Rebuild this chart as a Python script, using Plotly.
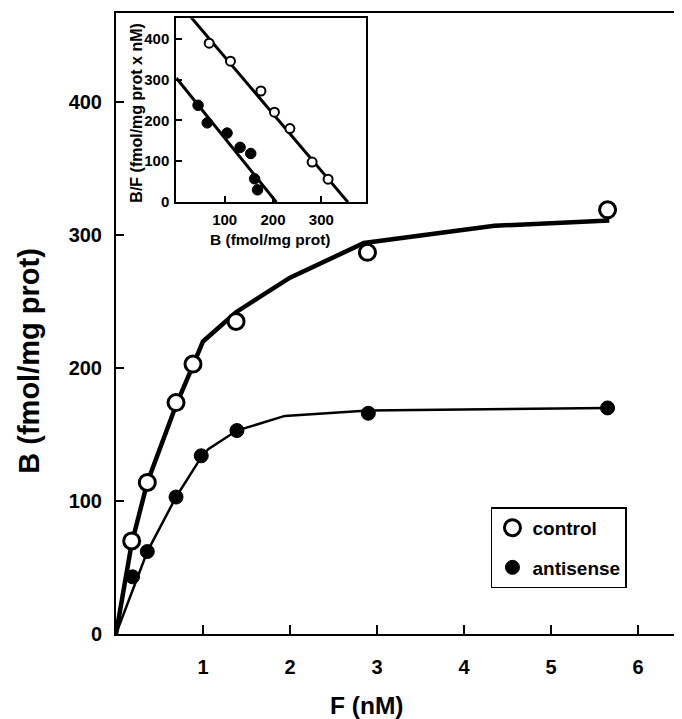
import plotly.graph_objects as go

# ---- main panel data (saturation binding) ----
control_F = [0.18, 0.36, 0.69, 0.885, 1.38, 2.89, 5.65]
control_B = [70, 114, 174, 203, 235, 287, 319]
antisense_F = [0.19, 0.36, 0.69, 0.98, 1.39, 2.90, 5.65]
antisense_B = [43, 62, 103, 134, 153, 166, 170]

# fitted curves
control_fit_F = [0, 0.18, 0.36, 0.69, 0.885, 1.0, 1.38, 2.0, 2.85, 4.35, 5.67]
control_fit_B = [0, 68, 114, 172, 202, 220, 242, 268, 294, 307, 311]
antisense_fit_F = [0, 0.36, 0.69, 0.98, 1.06, 1.39, 1.94, 2.9, 5.65]
antisense_fit_B = [0, 62, 103, 133, 139, 153, 164, 168, 170]

# ---- inset data (Scatchard) ----
inset_control_B = [68, 112, 175, 203, 235, 281, 314]
inset_control_BF = [389, 345, 272, 220, 180, 98, 56]
inset_control_line_B = [28, 355]
inset_control_line_BF = [456, 0]
inset_antisense_B = [45, 64, 105, 132, 154, 162, 168]
inset_antisense_BF = [237, 194, 169, 134, 119, 57, 30]
inset_antisense_line_B = [0, 207]
inset_antisense_line_BF = [304, 0]

main_xticks = [1, 2, 3, 4, 5, 6]
main_yticks = [0, 100, 200, 300, 400]
inset_xticks = [100, 200, 300]
inset_yticks = [0, 100, 200, 300, 400]

FONT = "Liberation Sans"
BLACK = "black"

fig = go.Figure()

# main fitted curves
fig.add_trace(go.Scatter(x=control_fit_F, y=control_fit_B, mode="lines",
                         line=dict(color=BLACK, width=4.5), showlegend=False, hoverinfo="skip"))
fig.add_trace(go.Scatter(x=antisense_fit_F, y=antisense_fit_B, mode="lines",
                         line=dict(color=BLACK, width=2.5), showlegend=False, hoverinfo="skip"))
# main markers
fig.add_trace(go.Scatter(x=control_F, y=control_B, mode="markers", name="control",
                         legendgroup="a",
                         marker=dict(symbol="circle", size=16, color="white",
                                     line=dict(color=BLACK, width=3))))
fig.add_trace(go.Scatter(x=antisense_F, y=antisense_B, mode="markers", name="antisense",
                         legendgroup="b",
                         marker=dict(symbol="circle", size=14, color=BLACK,
                                     line=dict(color=BLACK, width=1))))

# inset lines
fig.add_trace(go.Scatter(x=inset_control_line_B, y=inset_control_line_BF, mode="lines",
                         xaxis="x2", yaxis="y2", line=dict(color=BLACK, width=3),
                         showlegend=False, hoverinfo="skip"))
fig.add_trace(go.Scatter(x=inset_antisense_line_B, y=inset_antisense_line_BF, mode="lines",
                         xaxis="x2", yaxis="y2", line=dict(color=BLACK, width=3),
                         showlegend=False, hoverinfo="skip"))
# inset markers
fig.add_trace(go.Scatter(x=inset_control_B, y=inset_control_BF, mode="markers",
                         xaxis="x2", yaxis="y2", showlegend=False,
                         marker=dict(symbol="circle", size=9, color="white",
                                     line=dict(color=BLACK, width=2))))
fig.add_trace(go.Scatter(x=inset_antisense_B, y=inset_antisense_BF, mode="markers",
                         xaxis="x2", yaxis="y2", showlegend=False,
                         marker=dict(symbol="circle", size=10.5, color=BLACK,
                                     line=dict(color=BLACK, width=1))))

axis_common = dict(showline=True, linecolor=BLACK, linewidth=2, mirror=True,
                   showgrid=False, zeroline=False, ticks="inside", tickcolor=BLACK,
                   tickwidth=1.5)

fig.update_layout(
    width=682, height=719, autosize=False,
    margin=dict(l=108, r=5, t=3, b=93),
    paper_bgcolor="white", plot_bgcolor="white",
    font=dict(family=FONT, color=BLACK),
    xaxis=dict(range=[0, 6.54], tickvals=main_xticks, ticklen=9,
               tickfont=dict(size=20, weight="bold"), ticklabelstandoff=14,
               **axis_common),
    yaxis=dict(range=[0, 467], tickvals=main_yticks, ticklen=8,
               tickfont=dict(size=20, weight="bold"), ticklabelstandoff=8,
               **axis_common),
    xaxis2=dict(domain=[0.106, 0.439], anchor="y2", range=[0, 392],
                tickvals=inset_xticks, ticklen=6,
                tickfont=dict(size=15, weight="bold"), ticklabelstandoff=3,
                **axis_common),
    yaxis2=dict(domain=[0.6955, 0.9915], anchor="x2", range=[0, 450],
                tickvals=inset_yticks, ticklen=6,
                tickfont=dict(size=15, weight="bold"), ticklabelstandoff=2,
                **axis_common),
    legend=dict(x=0.659, y=0.204, xanchor="left", yanchor="top",
                bordercolor=BLACK, borderwidth=1.5, bgcolor="white",
                font=dict(size=19, weight="bold", family=FONT),
                tracegroupgap=12, traceorder="grouped", itemwidth=30),
    annotations=[
        dict(text="B (fmol/mg prot)", xref="paper", yref="paper", x=-0.153, y=0.44,
             xanchor="center", yanchor="middle",
             textangle=-90, showarrow=False, font=dict(size=29, weight="bold")),
        dict(text="F (nM)", xref="paper", yref="paper", x=0.44, y=-0.1154,
             xanchor="center", yanchor="middle",
             showarrow=False, font=dict(size=24.5, weight="bold")),
        dict(text="B (fmol/mg prot)", xref="paper", yref="paper", x=0.2707, y=0.636,
             xanchor="center", yanchor="middle",
             showarrow=False, font=dict(size=15.5, weight="bold")),
        dict(text="B/F (fmol/mg prot x nM)", xref="paper", yref="paper", x=0.0369, y=0.8395,
             xanchor="center", yanchor="middle",
             textangle=-90, showarrow=False, font=dict(size=16, weight="bold")),
    ],
)

fig.write_html("out.html")
